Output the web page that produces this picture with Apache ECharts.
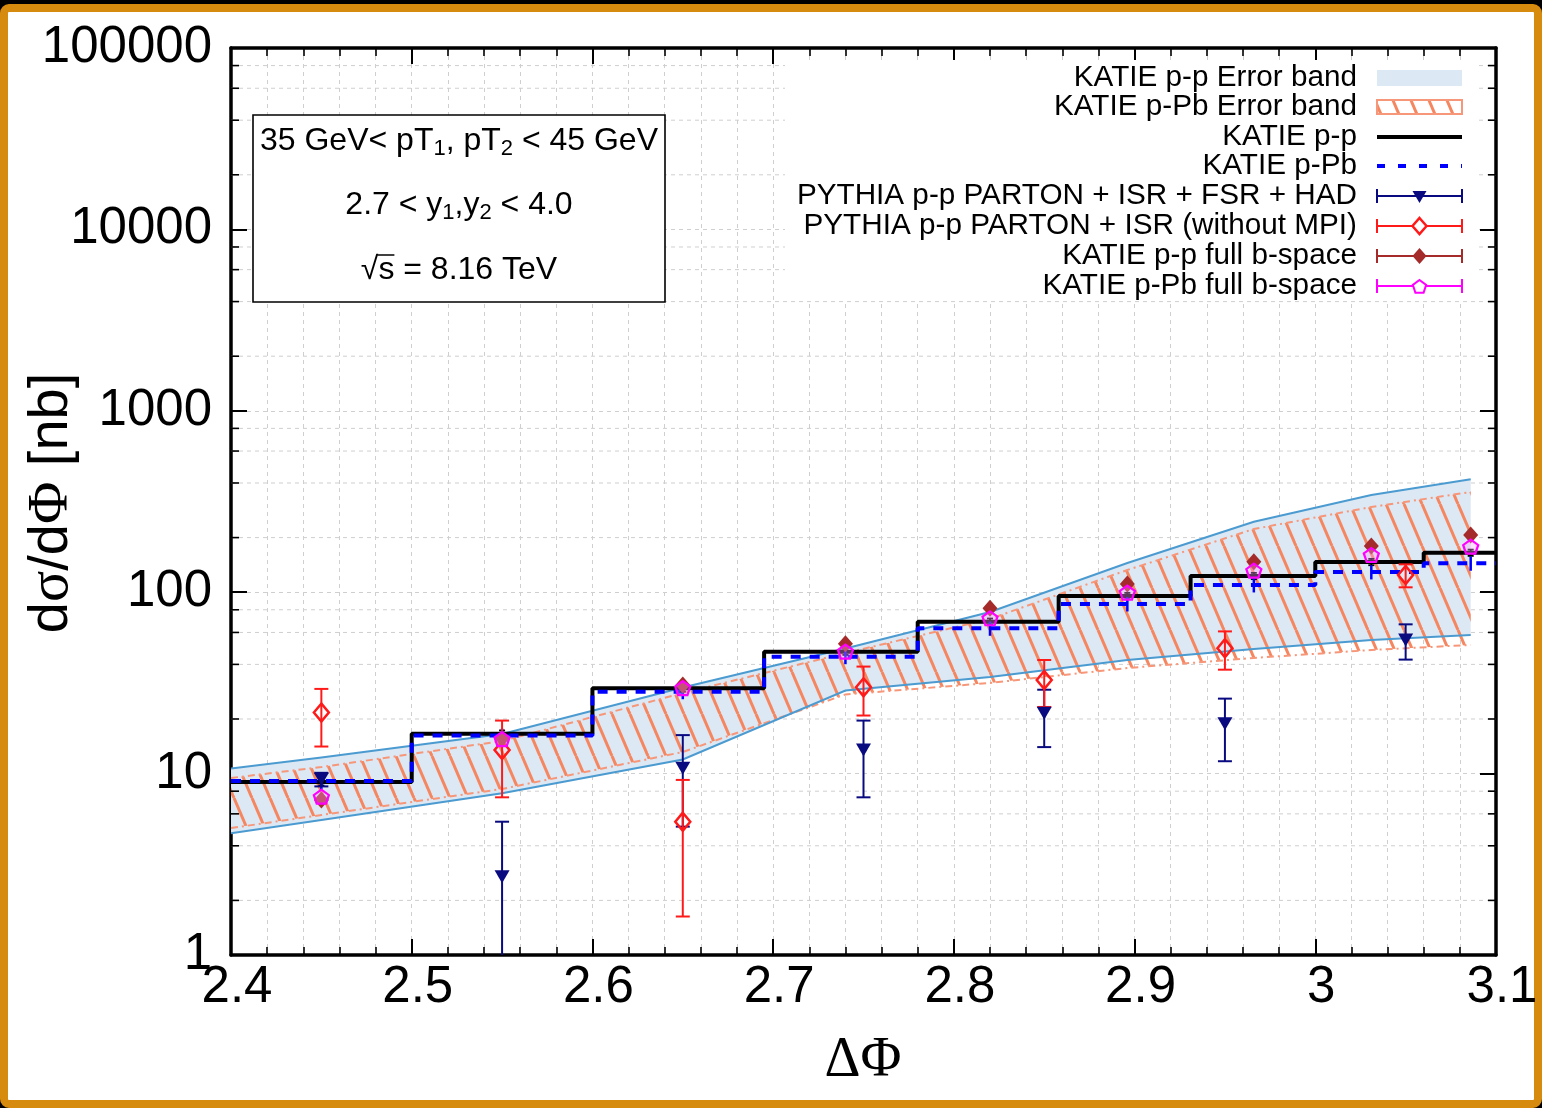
<!DOCTYPE html>
<html>
<head>
<meta charset="utf-8">
<title>dσ/dΦ vs ΔΦ</title>
<script src="https://cdn.jsdelivr.net/npm/echarts@6/dist/echarts.min.js"></script>
<style>
  html, body { margin: 0; padding: 0; width: 1542px; height: 1108px; overflow: hidden; background: #000; }
  #frame { position: absolute; left: 0; top: 4px; width: 1542px; height: 1104px; box-sizing: border-box;
           border: 8px solid #d68a0e; border-radius: 9px; background: #fff; }
  #chart { position: absolute; left: 0; top: 0; width: 1542px; height: 1108px; }
</style>
</head>
<body>
<div id="frame"></div>
<div id="chart"></div>
<script>
// ---------------- data ----------------
// KATIE histogram bin edges in ΔΦ
const binEdges = [2.4, 2.5, 2.6, 2.695, 2.78, 2.858, 2.931, 3.0, 3.06, 3.1];
// KATIE histogram heights per bin [nb]
const katiePP  = [9.0, 16.6, 29.5, 47.0, 68.8, 95.3, 122.9, 146.7, 165.1];
const katiePPb = [9.1, 16.2, 28.3, 44.1, 63.2, 86.1, 109.6, 129.2, 144.3];
// small statistical errors drawn at the bin centres
const katiePPErr  = [0.4, 0.7, 1.2, 1.9, 2.8, 3.8, 4.9, 5.9, 6.6];
const katiePPbErr = [0.9, 1.5, 2.6, 4.0, 5.7, 7.8, 9.9, 11.6, 13.0];
// bin centres of the KATIE points
const katieCenters = [2.45, 2.55, 2.65, 2.74, 2.82, 2.896, 2.966, 3.031, 3.086];
const katiePPFull  = [7.15, 15.6, 30.8, 52.0, 81.5, 111.0, 147.3, 179.7, 206.7];
const katiePPbFull = [7.46, 15.5, 29.6, 47.0, 71.8, 99.4, 131.4, 160.3, 178.2];
// error band nodes
const bandX       = [2.4, 2.45, 2.55, 2.65, 2.74, 2.82, 2.896, 2.966, 3.031, 3.086];
const ppBandHigh  = [10.67, 12.27, 16.54, 29.83, 48.94, 77.8, 144.9, 244.7, 343.5, 419.3];
const ppBandLow   = [4.69, 5.55, 7.79, 11.96, 28.72, 34.08, 42.3, 48.6, 54.5, 58.1];
const pPbBandHigh = [9.46, 10.87, 15.12, 27.8, 46.2, 71.2, 132.6, 223.0, 294.9, 356.8];
const pPbBandLow  = [5.01, 5.91, 8.23, 13.15, 27.3, 31.6, 38.2, 43.4, 48.0, 51.2];
// PYTHIA points
const pythiaX      = [2.45, 2.55, 2.65, 2.75, 2.85, 2.95, 3.05];
const pythiaHad    = [9.3, 2.70, 10.7, 13.5, 21.5, 18.8, 54.5];
const pythiaHadErr = [0.8, 2.73, 5.6, 6.1, 7.5, 7.1, 12.0];
const pythiaIsr    = [21.7, 13.5, 5.43, 29.9, 32.8, 49.1, 124.4];
const pythiaIsrErr = [7.6, 6.1, 3.8, 9.0, 9.5, 11.7, 18.0];

const legendNames = [
  'KATIE p-p Error band',
  'KATIE p-Pb Error band',
  'KATIE p-p',
  'KATIE p-Pb',
  'PYTHIA p-p PARTON + ISR + FSR + HAD',
  'PYTHIA p-p PARTON + ISR (without MPI)',
  'KATIE p-p full b-space',
  'KATIE p-Pb full b-space'
];
const infoLines = ['35 GeV< pT{s|1}, pT{s|2} < 45 GeV', '2.7 < y{s|1},y{s|2} < 4.0', '√s = 8.16 TeV'];

// ---------------- styling ----------------
const X_MIN = 2.4, X_MAX = 3.1, Y_MIN = 1, Y_MAX = 100000;
const FONT = 'Liberation Sans, Arial, sans-serif';
const SERIF = 'Liberation Serif, Times New Roman, serif';
const COL = {
  ppFill: '#dce8f4', ppEdge: '#4b9bd1', hatch: '#f5865f', pPbEdge: '#f7977a',
  pp: '#000000', pPb: '#0000ff', had: '#0a0a80', isr: '#ff1a1a',
  ppFull: '#a52a2a', pPbFull: '#ff00ff', grid: '#cfcfcf'
};
const gridLine = { color: COL.grid, width: 1, type: [4, 4] };

// diagonal hatch tile for the p-Pb band
function hatchCanvas() {
  const c = document.createElement('canvas');
  c.width = 18; c.height = 42;
  const g = c.getContext('2d');
  g.strokeStyle = COL.hatch;
  g.lineWidth = 3;
  for (const dx of [-18, 0, 18]) {
    g.beginPath(); g.moveTo(dx, 0); g.lineTo(dx + 18, 42); g.stroke();
  }
  return c;
}
const hatchPattern = { image: hatchCanvas(), repeat: 'repeat' };

// step histogram points (value held until the next edge)
function stepData(vals) {
  const d = vals.map((v, i) => [binEdges[i], v]);
  d.push([binEdges[binEdges.length - 1], vals[vals.length - 1]]);
  return d;
}

// minor log grid lines (2,4,6,8 x 10^k)
function minorGridRender(params, api) {
  const children = [];
  for (let k = 0; k < 5; k++) {
    for (const m of [2, 4, 6, 8]) {
      const v = m * Math.pow(10, k);
      const l = api.coord([X_MIN, v]), r = api.coord([X_MAX, v]);
      children.push({ type: 'line', shape: { x1: l[0], y1: l[1], x2: r[0], y2: r[1] },
        style: { stroke: COL.grid, lineWidth: 1, lineDash: [4, 4] } });
    }
  }
  return { type: 'group', children };
}
// minor log ticks on the left and right frame
function minorTickRender(params, api) {
  const children = [];
  for (let k = 0; k < 5; k++) {
    for (const m of [2, 4, 6, 8]) {
      const v = m * Math.pow(10, k);
      const l = api.coord([X_MIN, v]), r = api.coord([X_MAX, v]);
      children.push({ type: 'line', shape: { x1: l[0], y1: l[1], x2: l[0] + 8, y2: l[1] }, style: { stroke: '#000', lineWidth: 1.6 } });
      children.push({ type: 'line', shape: { x1: r[0], y1: r[1], x2: r[0] - 8, y2: r[1] }, style: { stroke: '#000', lineWidth: 1.6 } });
    }
  }
  return { type: 'group', children };
}

function bandPoints(api, lo, hi) {
  const top = bandX.map((x, i) => api.coord([x, hi[i]]));
  const bot = bandX.map((x, i) => api.coord([x, lo[i]]));
  return { top, bot, poly: top.concat(bot.slice().reverse()) };
}
function bandFillRender(params, api) {
  const pp = bandPoints(api, ppBandLow, ppBandHigh);
  const pb = bandPoints(api, pPbBandLow, pPbBandHigh);
  return { type: 'group', children: [
    { type: 'polygon', shape: { points: pp.poly }, style: { fill: COL.ppFill } },
    { type: 'polygon', shape: { points: pb.poly }, style: { fill: hatchPattern } }
  ] };
}
function bandEdgeRender(params, api) {
  const pp = bandPoints(api, ppBandLow, ppBandHigh);
  const pb = bandPoints(api, pPbBandLow, pPbBandHigh);
  const edge = { fill: 'none', stroke: COL.ppEdge, lineWidth: 2 };
  const dash = { fill: 'none', stroke: COL.pPbEdge, lineWidth: 2, lineDash: [7, 4, 2, 4] };
  return { type: 'group', children: [
    { type: 'polyline', shape: { points: pb.top }, style: dash },
    { type: 'polyline', shape: { points: pb.bot }, style: dash },
    { type: 'polyline', shape: { points: pp.top }, style: edge },
    { type: 'polyline', shape: { points: pp.bot }, style: edge }
  ] };
}

// vertical error bars with optional caps
function errorBarRender(color, capHalf, width) {
  return function (params, api) {
    const x = api.value(0), y = api.value(1), e = api.value(2);
    const hi = api.coord([x, y + e]);
    const loVal = y - e;
    const cs = params.coordSys;
    const lo = loVal > 0 ? api.coord([x, loVal]) : [hi[0], cs.y + cs.height + 4];
    const st = { stroke: color, lineWidth: width };
    const children = [{ type: 'line', shape: { x1: hi[0], y1: hi[1], x2: lo[0], y2: lo[1] }, style: st }];
    if (capHalf > 0) {
      children.push({ type: 'line', shape: { x1: hi[0] - capHalf, y1: hi[1], x2: hi[0] + capHalf, y2: hi[1] }, style: st });
      if (loVal > 0) children.push({ type: 'line', shape: { x1: lo[0] - capHalf, y1: lo[1], x2: lo[0] + capHalf, y2: lo[1] }, style: st });
    }
    return { type: 'group', children };
  };
}

const PENTAGON = 'path://M50,0 L97.6,34.5 L79.4,90.5 L20.6,90.5 L2.4,34.5 Z';

// ---------------- overlay graphics: legend, info box, titles ----------------
function textWidth(str, font) {
  const g = document.createElement('canvas').getContext('2d');
  g.font = font;
  return g.measureText(str).width;
}

function buildGraphics() {
  const els = [];
  // legend
  const LX0 = 1377, LX1 = 1462, LTX = 1357, LXC = (LX0 + LX1) / 2;
  const rowY = [78, 107, 137, 166, 196, 226, 256, 286];
  els.push({ type: 'rect', z: 50, shape: { x: 785, y: 60, width: 693, height: 240 }, style: { fill: '#fff' } });
  legendNames.forEach((name, i) => {
    els.push({ type: 'text', z: 60, x: LTX, y: rowY[i],
      style: { text: name, fontSize: 29.7, fontFamily: FONT, fill: '#000',
               align: 'right', textAlign: 'right', verticalAlign: 'middle', textVerticalAlign: 'middle' } });
  });
  els.push({ type: 'rect', z: 60, shape: { x: LX0, y: rowY[0] - 8, width: LX1 - LX0, height: 16 }, style: { fill: COL.ppFill } });
  els.push({ type: 'rect', z: 60, shape: { x: LX0, y: rowY[1] - 7, width: LX1 - LX0, height: 14 },
    style: { fill: hatchPattern, stroke: COL.pPbEdge, lineWidth: 2 } });
  els.push({ type: 'line', z: 60, shape: { x1: LX0, y1: rowY[2], x2: LX1, y2: rowY[2] }, style: { stroke: COL.pp, lineWidth: 4 } });
  els.push({ type: 'line', z: 60, shape: { x1: LX0, y1: rowY[3], x2: LX1, y2: rowY[3] }, style: { stroke: COL.pPb, lineWidth: 4, lineDash: [8, 13] } });
  const errColors = [COL.had, COL.isr, COL.ppFull, COL.pPbFull];
  errColors.forEach((c, j) => {
    const y = rowY[4 + j];
    const st = { stroke: c, lineWidth: 2 };
    els.push({ type: 'line', z: 60, shape: { x1: LX0, y1: y, x2: LX1, y2: y }, style: st });
    els.push({ type: 'line', z: 60, shape: { x1: LX0, y1: y - 7, x2: LX0, y2: y + 7 }, style: st });
    els.push({ type: 'line', z: 60, shape: { x1: LX1, y1: y - 7, x2: LX1, y2: y + 7 }, style: st });
  });
  // legend markers
  els.push({ type: 'polygon', z: 61, shape: { points: [[LXC - 7, rowY[4] - 5], [LXC + 7, rowY[4] - 5], [LXC, rowY[4] + 7]] }, style: { fill: COL.had } });
  els.push({ type: 'polygon', z: 61, shape: { points: [[LXC, rowY[5] - 8], [LXC + 7, rowY[5]], [LXC, rowY[5] + 8], [LXC - 7, rowY[5]]] }, style: { fill: '#fff', stroke: COL.isr, lineWidth: 2.5 } });
  els.push({ type: 'polygon', z: 61, shape: { points: [[LXC, rowY[6] - 8], [LXC + 7, rowY[6]], [LXC, rowY[6] + 8], [LXC - 7, rowY[6]]] }, style: { fill: COL.ppFull } });
  const pr = 7, py = rowY[7];
  const pent = [0, 1, 2, 3, 4].map(k => [LXC + pr * Math.sin(k * 2 * Math.PI / 5), py + 1 - pr * Math.cos(k * 2 * Math.PI / 5)]);
  els.push({ type: 'polygon', z: 61, shape: { points: pent }, style: { fill: '#fff', stroke: COL.pPbFull, lineWidth: 2 } });

  // info box
  const BX = 253, BY = 115, BW = 412, BH = 187, BCX = BX + BW / 2;
  els.push({ type: 'rect', z: 50, shape: { x: BX, y: BY, width: BW, height: BH }, style: { fill: '#fff', stroke: '#000', lineWidth: 1.6 } });
  const lineY = [141, 205, 270];
  const rich = { s: { fontSize: 22, fontFamily: FONT, lineHeight: 22, verticalAlign: 'bottom', fill: '#000' } };
  infoLines.forEach((t, i) => {
    els.push({ type: 'text', z: 60, x: BCX, y: lineY[i],
      style: { text: t, rich, fontSize: 32, lineHeight: 38, fontFamily: FONT, fill: '#000',
               align: 'center', textAlign: 'center', verticalAlign: 'middle', textVerticalAlign: 'middle' } });
  });
  // bar over the s under the root sign
  const f32 = '32px Liberation Sans';
  const w = textWidth(infoLines[2], f32), wr = textWidth('√', f32), ws = textWidth('s', f32);
  const x0 = BCX - w / 2 + wr - 1;
  els.push({ type: 'line', z: 61, shape: { x1: x0, y1: lineY[2] - 15, x2: x0 + ws + 1, y2: lineY[2] - 15 }, style: { stroke: '#000', lineWidth: 1.5 } });

  // axis titles
  els.push({ type: 'text', z: 60, x: 52, y: 503, rotation: Math.PI / 2,
    style: { text: 'd{g|σ}/d{g|Φ} [nb]', fontSize: 56, fontFamily: FONT, fill: '#000',
             rich: { g: { fontSize: 58, fontFamily: SERIF, fill: '#000' } },
             align: 'center', textAlign: 'center', verticalAlign: 'middle', textVerticalAlign: 'middle' } });
  els.push({ type: 'text', z: 60, x: 863, y: 1061,
    style: { text: 'ΔΦ', fontSize: 56, fontFamily: SERIF, fill: '#000',
             align: 'center', textAlign: 'center', verticalAlign: 'middle', textVerticalAlign: 'middle' } });
  return els;
}

// ---------------- chart ----------------
const chart = echarts.init(document.getElementById('chart'), null, { renderer: 'canvas' });

const frameLine = { show: true, onZero: false, lineStyle: { color: '#000', width: 3.5 } };
const xTicks = { show: true, inside: true, length: 16, lineStyle: { color: '#000', width: 2 } };
const xMinor = { show: true, splitNumber: 5, length: 8, lineStyle: { color: '#000', width: 1.6 } };
const yTicks = { show: true, inside: true, length: 16, lineStyle: { color: '#000', width: 2 } };

const option = {
  animation: false,
  backgroundColor: 'transparent',
  tooltip: { show: false },
  grid: { left: 231, top: 48, width: 1265, height: 907, containLabel: false, outerBoundsMode: 'none' },
  xAxis: [
    { type: 'value', min: X_MIN, max: X_MAX, interval: 0.1, position: 'bottom',
      axisLine: frameLine, axisTick: xTicks, minorTick: xMinor,
      splitLine: { show: true, lineStyle: gridLine },
      minorSplitLine: { show: true, lineStyle: gridLine },
      axisLabel: { show: true, margin: 7, fontSize: 51, fontFamily: FONT, color: '#000',
                   padding: [0, 0, 0, 12],
                   showMinLabel: true, showMaxLabel: true,
                   formatter: v => String(parseFloat(v.toFixed(2))) } },
    { type: 'value', min: X_MIN, max: X_MAX, interval: 0.1, position: 'top',
      axisLine: frameLine, axisTick: xTicks, minorTick: xMinor,
      splitLine: { show: false }, axisLabel: { show: false } }
  ],
  yAxis: [
    { type: 'log', logBase: 10, min: Y_MIN, max: Y_MAX, splitNumber: 5, position: 'left',
      axisLine: frameLine, axisTick: yTicks,
      splitLine: { show: true, lineStyle: gridLine },
      axisLabel: { show: true, margin: 19, fontSize: 51, fontFamily: FONT, color: '#000',
                   showMinLabel: true, showMaxLabel: true,
                   formatter: v => String(Math.round(v)) } },
    { type: 'log', logBase: 10, min: Y_MIN, max: Y_MAX, splitNumber: 5, position: 'right',
      axisLine: frameLine, axisTick: yTicks,
      splitLine: { show: false }, axisLabel: { show: false } }
  ],
  series: [
    { type: 'custom', name: 'minor grid', z: 1, silent: true, data: [[X_MIN, Y_MIN]], renderItem: minorGridRender },
    { type: 'custom', name: 'band fill', z: 2, silent: true, clip: true, data: [[X_MIN, Y_MIN]], renderItem: bandFillRender },
    { type: 'custom', name: 'band edges', z: 3, silent: true, clip: true, data: [[X_MIN, Y_MIN]], renderItem: bandEdgeRender },
    { type: 'line', name: 'KATIE p-p', z: 4, step: 'end', showSymbol: false, silent: true,
      data: stepData(katiePP), lineStyle: { color: COL.pp, width: 4 } },
    { type: 'line', name: 'KATIE p-Pb', z: 5, step: 'end', showSymbol: false, silent: true,
      data: stepData(katiePPb), lineStyle: { color: COL.pPb, width: 4, type: [10, 9] } },
    { type: 'custom', name: 'KATIE p-p err', z: 6, silent: true, clip: true, encode: { x: 0, y: 1 },
      data: katieCenters.map((x, i) => [x, katiePP[i], katiePPErr[i]]), renderItem: errorBarRender(COL.pp, 3, 1.8) },
    { type: 'custom', name: 'KATIE p-Pb err', z: 6, silent: true, clip: true, encode: { x: 0, y: 1 },
      data: katieCenters.map((x, i) => [x, katiePPb[i], katiePPbErr[i]]), renderItem: errorBarRender(COL.pPb, 0, 2.5) },
    { type: 'custom', name: 'PYTHIA HAD err', z: 7, silent: true, clip: true, encode: { x: 0, y: 1 },
      data: pythiaX.map((x, i) => [x, pythiaHad[i], pythiaHadErr[i]]), renderItem: errorBarRender(COL.had, 7, 2) },
    { type: 'custom', name: 'PYTHIA ISR err', z: 7, silent: true, clip: true, encode: { x: 0, y: 1 },
      data: pythiaX.map((x, i) => [x, pythiaIsr[i], pythiaIsrErr[i]]), renderItem: errorBarRender(COL.isr, 7, 2) },
    { type: 'scatter', name: legendNames[4], z: 8, silent: true, symbol: 'triangle', symbolRotate: 180, symbolSize: [15, 13],
      data: pythiaX.map((x, i) => [x, pythiaHad[i]]), itemStyle: { color: COL.had, opacity: 1 } },
    { type: 'scatter', name: legendNames[5], z: 8, silent: true, symbol: 'diamond', symbolSize: [15, 18],
      data: pythiaX.map((x, i) => [x, pythiaIsr[i]]),
      itemStyle: { color: 'rgba(255,255,255,0)', borderColor: COL.isr, borderWidth: 2.5, opacity: 1 } },
    { type: 'scatter', name: legendNames[6], z: 9, silent: true, symbol: 'diamond', symbolSize: [15, 17],
      data: katieCenters.map((x, i) => [x, katiePPFull[i]]), itemStyle: { color: COL.ppFull, opacity: 1 } },
    { type: 'scatter', name: legendNames[7], z: 10, silent: true, symbol: PENTAGON, symbolSize: [15, 14],
      data: katieCenters.map((x, i) => [x, katiePPbFull[i]]),
      itemStyle: { color: 'rgba(255,160,255,0.35)', borderColor: COL.pPbFull, borderWidth: 2.2, opacity: 1 } },
    { type: 'custom', name: 'minor ticks', z: 12, silent: true, data: [[X_MIN, Y_MIN]], renderItem: minorTickRender }
  ],
  graphic: { elements: buildGraphics() }
};

chart.setOption(option);
</script>
</body>
</html>
